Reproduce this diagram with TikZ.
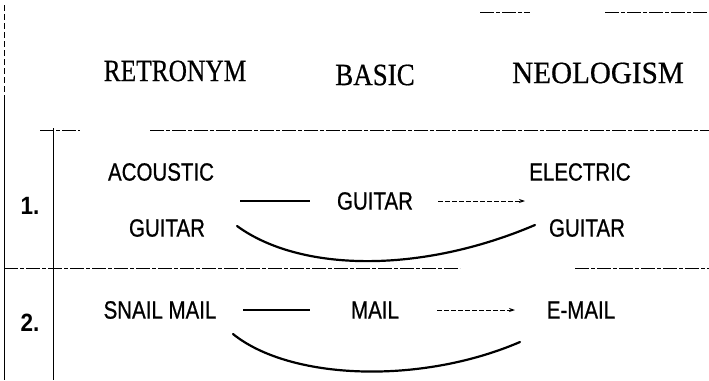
\documentclass[tikz,border=0pt]{standalone}
\usepackage{fontspec}
\setmainfont{Liberation Serif}
\newfontfamily\headfont[FakeBold=0.6]{Liberation Serif}
\newfontfamily\rowfont[FakeBold=0.8]{Liberation Sans}
\newfontfamily\numfont{Liberation Sans}
\usetikzlibrary{arrows.meta}
\newcommand{\narrow}[2]{\scalebox{#1}[1]{#2}}
\tikzset{
  head/.style={font=\headfont\fontsize{31}{33}\selectfont, inner sep=0pt},
  word/.style={font=\rowfont\fontsize{25}{27}\selectfont, inner sep=0pt},
  num/.style={font=\numfont\bfseries\fontsize{25}{27}\selectfont, inner sep=0pt},
  rule/.style={line width=0.9pt},
  thinrule/.style={line width=0.8pt, dash pattern=on 14pt off 2pt on 4pt off 2pt},
  link/.style={line width=1.3pt},
  derive/.style={line width=0.9pt, dash pattern=on 5pt off 2pt, -{Stealth[length=6pt,width=4pt]}},
  bow/.style={line width=2.2pt, line cap=round},
}
\begin{document}
\begin{tikzpicture}[x=1pt,y=-1pt]
\useasboundingbox (0,0) rectangle (709,380);

% table frame
\coordinate (L0) at (4,5);
\coordinate (L1) at (4,100);
\coordinate (L2) at (4,380);
\draw[line width=0.7pt, dash pattern=on 6pt off 3pt] (L0) -- (L1);
\draw[rule] (L1) -- (L2);
\coordinate (I0) at (53,128);
\coordinate (I1) at (53,380);
\draw[rule] (I0) -- (I1);
\coordinate (T0) at (480,12);
\coordinate (T1) at (530,12);
\coordinate (T2) at (605,12);
\coordinate (T3) at (709,12);
\draw[thinrule] (T0) -- (T1);
\draw[thinrule] (T2) -- (T3);
\coordinate (H0) at (40,130);
\coordinate (H1) at (80,130);
\coordinate (H2) at (150,130);
\coordinate (H3) at (709,130);
\draw[thinrule] (H0) -- (H1);
\draw[thinrule] (H2) -- (H3);
\coordinate (M0) at (4,268);
\coordinate (M1) at (460,268);
\coordinate (M2) at (575,268);
\coordinate (M3) at (709,268);
\draw[thinrule] (M0) -- (M1);
\draw[thinrule] (M2) -- (M3);

% column headings
\node[head] (hret) at (175,71) {\narrow{0.82}{RETRONYM}};
\node[head] (hbas) at (375,75) {\narrow{0.87}{BASIC}};
\node[head] (hneo) at (598,73) {\narrow{0.94}{NEOLOGISM}};

% row 1
\node[num]  (n1) at (30,206) {\narrow{0.9}{1.}};
\node[word] (ac) at (161,172) {\narrow{0.82}{ACOUSTIC}};
\node[word] (ag) at (167,228) {\narrow{0.82}{GUITAR}};
\node[word] (bg) at (375,201) {\narrow{0.82}{GUITAR}};
\node[word] (el) at (580,172) {\narrow{0.82}{ELECTRIC}};
\node[word] (eg) at (587,228) {\narrow{0.82}{GUITAR}};
\coordinate (a1) at (240,201);
\coordinate (a2) at (310,201);
\draw[link] (a1) -- (a2);
\coordinate (d1) at (438,201);
\coordinate (d2) at (525,201);
\draw[derive] (d1) -- (d2);
\coordinate (b1s) at (237,226);
\coordinate (b1e) at (535,225);
\draw[bow] (b1s) .. controls (300,272) and (420,274) .. (b1e);

% row 2
\node[num]  (n2) at (30,323) {\narrow{0.9}{2.}};
\node[word] (sm) at (160,310) {\narrow{0.82}{SNAIL MAIL}};
\node[word] (bm) at (375,310) {\narrow{0.82}{MAIL}};
\node[word] (em) at (581,310) {\narrow{0.82}{E-MAIL}};
\coordinate (c1) at (243,310);
\coordinate (c2) at (310,310);
\draw[link] (c1) -- (c2);
\coordinate (e1) at (437,310);
\coordinate (e2) at (515,310);
\draw[derive] (e1) -- (e2);
\coordinate (b2s) at (233,334);
\coordinate (b2e) at (520,342);
\draw[bow] (b2s) .. controls (290,380) and (420,385) .. (b2e);
\end{tikzpicture}
\end{document}
